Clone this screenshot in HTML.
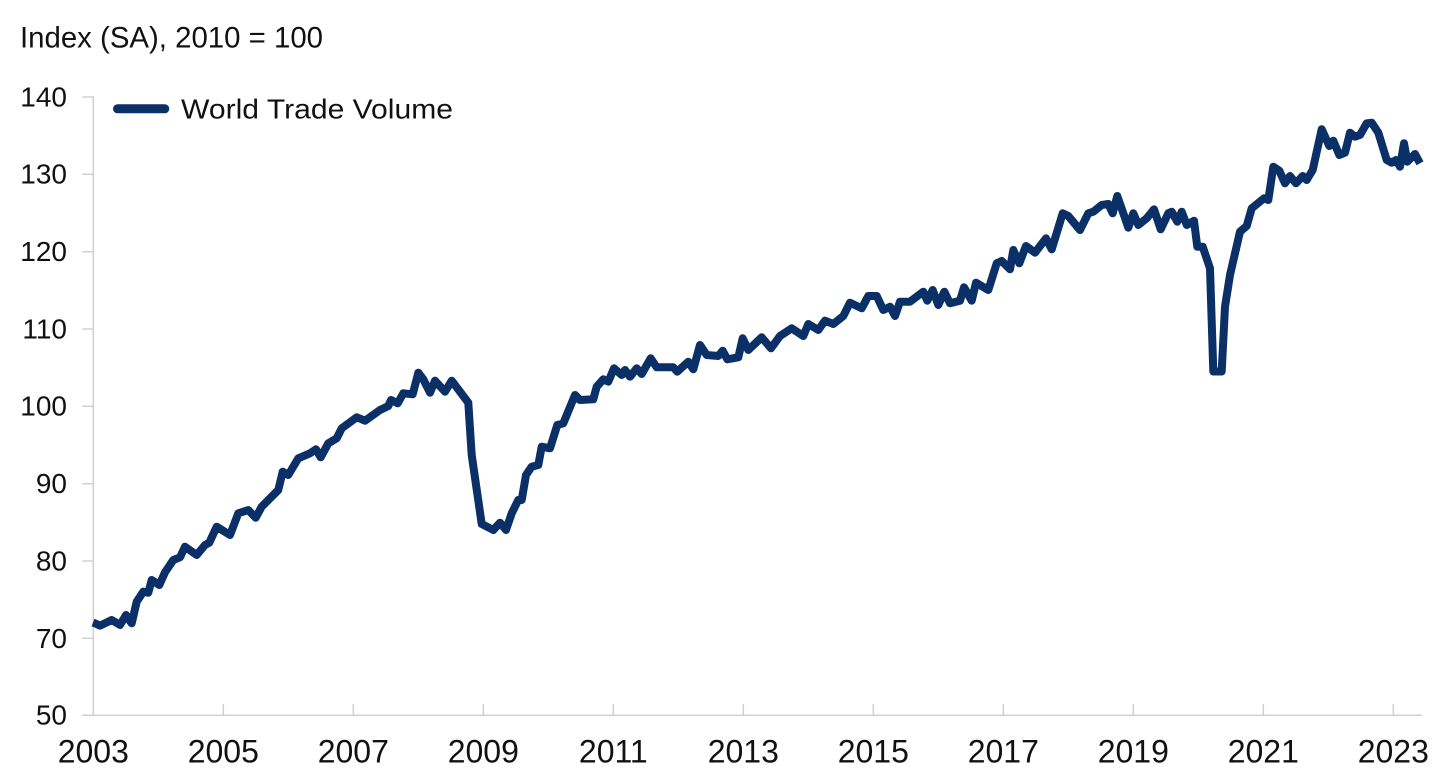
<!DOCTYPE html>
<html>
<head>
<meta charset="utf-8">
<style>
  html, body { margin: 0; padding: 0; background: #ffffff; }
  body { width: 1440px; height: 781px; overflow: hidden; }
  svg { display: block; }
  text { font-family: "Liberation Sans", "DejaVu Sans", sans-serif; fill: #111111; }
</style>
</head>
<body>
<svg width="1440" height="781" viewBox="0 0 1440 781" xmlns="http://www.w3.org/2000/svg">
  <rect x="0" y="0" width="1440" height="781" fill="#ffffff"/>

  <!-- Title -->
  <text x="20" y="47.7" font-size="30" textLength="303" lengthAdjust="spacingAndGlyphs" fill="#1a1a1a">Index (SA), 2010 = 100</text>

  <!-- Axes -->
  <g stroke="#d0d0d0" stroke-width="1.5" fill="none">
    <line x1="93.3" y1="96" x2="93.3" y2="715.3"/>
    <line x1="82" y1="715.3" x2="1422" y2="715.3"/>
    <!-- y ticks -->
    <line x1="82" y1="97" x2="93.3" y2="97"/>
    <line x1="82" y1="174.3" x2="93.3" y2="174.3"/>
    <line x1="82" y1="251.7" x2="93.3" y2="251.7"/>
    <line x1="82" y1="329" x2="93.3" y2="329"/>
    <line x1="82" y1="406.3" x2="93.3" y2="406.3"/>
    <line x1="82" y1="483.7" x2="93.3" y2="483.7"/>
    <line x1="82" y1="561" x2="93.3" y2="561"/>
    <line x1="82" y1="638.3" x2="93.3" y2="638.3"/>
    <!-- x ticks -->
    <line x1="223.3" y1="704" x2="223.3" y2="715.3"/>
    <line x1="353.3" y1="704" x2="353.3" y2="715.3"/>
    <line x1="483.3" y1="704" x2="483.3" y2="715.3"/>
    <line x1="613.3" y1="704" x2="613.3" y2="715.3"/>
    <line x1="743.3" y1="704" x2="743.3" y2="715.3"/>
    <line x1="873.3" y1="704" x2="873.3" y2="715.3"/>
    <line x1="1003.3" y1="704" x2="1003.3" y2="715.3"/>
    <line x1="1133.3" y1="704" x2="1133.3" y2="715.3"/>
    <line x1="1263.3" y1="704" x2="1263.3" y2="715.3"/>
    <line x1="1393.3" y1="704" x2="1393.3" y2="715.3"/>
  </g>

  <!-- Y labels -->
  <g font-size="28" text-anchor="end">
    <text x="67" y="106.5">140</text>
    <text x="67" y="183.6">130</text>
    <text x="67" y="261">120</text>
    <text x="67" y="338.4">110</text>
    <text x="67" y="415.7">100</text>
    <text x="67" y="493">90</text>
    <text x="67" y="570.4">80</text>
    <text x="67" y="647.8">70</text>
    <text x="67" y="724.5">50</text>
  </g>

  <!-- X labels -->
  <g font-size="32" text-anchor="middle">
    <text x="93.3" y="762.7">2003</text>
    <text x="223.3" y="762.7">2005</text>
    <text x="353.3" y="762.7">2007</text>
    <text x="483.3" y="762.7">2009</text>
    <text x="613.3" y="762.7">2011</text>
    <text x="743.3" y="762.7">2013</text>
    <text x="873.3" y="762.7">2015</text>
    <text x="1003.3" y="762.7">2017</text>
    <text x="1133.3" y="762.7">2019</text>
    <text x="1263.3" y="762.7">2021</text>
    <text x="1393.3" y="762.7">2023</text>
  </g>

  <!-- Legend -->
  <line x1="117.5" y1="108.8" x2="164.8" y2="108.8" stroke="#0b3068" stroke-width="9" stroke-linecap="round"/>
  <text x="181" y="118.3" font-size="28" textLength="272" lengthAdjust="spacingAndGlyphs">World Trade Volume</text>

  <!-- Series -->
  <polyline fill="none" stroke="#0b3068" stroke-width="8" stroke-linejoin="round" stroke-linecap="butt"
    points="93,622.5 95,623.3 100,625.7 111.7,620 120,625 126,615 131.7,623.3 136.7,601.7 143.3,591.7 148.3,592.7 151.7,580 159.3,585 165,572.3 173.3,560 180,557.3 185,546.7 196.7,555 205,545 209.3,542.7 216.7,526.7 230,535 238.3,513.3 248.3,510 255.7,517.7 261.7,506.7 278.3,490 282.7,471.7 288.3,475 298.3,458.3 310,453.3 316,449.3 320.7,457.3 328.3,443.3 336.7,438.3 341.7,428.3 356.7,417.3 365,420.7 380,410 388.3,406 391,400 397.7,403.3 403.3,393.3 412.7,394.3 418.3,372.7 423.3,379.3 430,392.7 435,380.7 445,391.7 451.7,380.7 460,391.7 468.3,402.7 471.7,455 481.7,524 493.3,530 500,522.7 506,530 511.7,513.3 518.3,500 521.7,500 526,475 531.7,466.7 538.3,465 541.7,446.7 550,448.3 557.3,425 563.3,423.3 575,395 580,400 593.3,399.3 596.7,386.7 603.3,379.3 608.3,381.7 614,368.3 621.7,375 625,370 630,376.7 636.7,368.3 641.7,374 650.7,358.3 656.7,367.3 673.3,367.3 677.3,371.7 688.3,361.7 693.3,369.3 700,345 706.7,355 718.3,356 722.7,350.7 727.3,359.3 738.3,357.3 742.7,338.3 748.3,350 761.7,337.3 771,348.3 780,336 791.7,328.3 803.3,336 808.3,324 818.3,330 825,320.7 833.3,324 843.3,316 850,302.7 861.7,308.3 868.3,296 876.7,296 883.3,310 890,306.7 895,316 900,301.7 910,301.7 923.3,291.7 927.3,300.7 932.7,290 938.3,305 944.3,291.7 950,303.3 960,300.7 964,287.3 971.7,300.7 976,282.7 988.3,290 996.7,263.3 1001.7,261 1010,269.3 1013.3,250 1019.3,263.3 1026,246 1035,252.7 1046,238.3 1051.7,249.3 1062.7,213.3 1068.3,216 1080,230 1088.3,213.3 1093.3,211.7 1101.7,205 1108.3,204 1112.7,213.3 1117.3,196 1128.3,227.7 1133.3,213.3 1138.3,225 1146.7,218.3 1154,209.3 1160.7,229.3 1168.3,213.3 1171.7,211.7 1177.3,221.7 1181.7,211.7 1186.7,225 1194,220.7 1197.3,246.7 1202.7,246.7 1210,268.3 1213.3,371.5 1221.7,371.5 1225,306.7 1230,275 1240,231.7 1246.7,226 1251.7,208.3 1264,198.3 1268.3,200 1273.3,166.7 1279.3,170.7 1285,183.3 1290,176 1296,183.3 1302.7,176 1306.7,180 1312.7,170 1321.7,129.3 1329.3,146 1333.3,140.7 1339.3,155 1345,152.7 1350,132.7 1355,136.7 1360,135 1366.7,123.3 1371.7,122.7 1378.3,132.7 1386.7,160 1391.7,162.7 1396,160 1400,166.7 1404,143.3 1407.3,161.7 1415,154 1420,163.3"/>
</svg>
</body>
</html>
